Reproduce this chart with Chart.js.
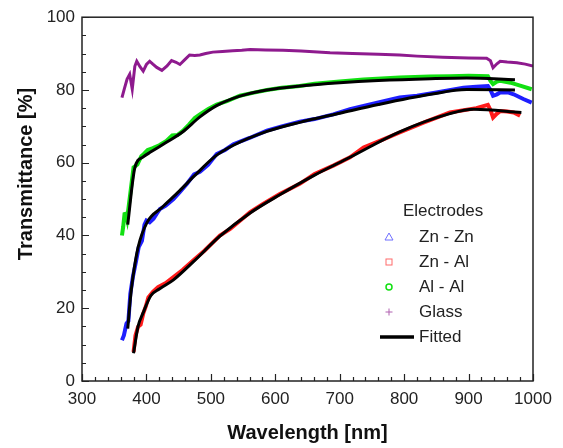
<!DOCTYPE html>
<html>
<head>
<meta charset="utf-8">
<script src="https://cdn.jsdelivr.net/npm/chart.js@4/dist/chart.umd.min.js"></script>
<style>
  html, body { margin: 0; padding: 0; background: #ffffff; }
  #wrap { width: 563px; height: 448px; position: relative; }
</style>
</head>
<body>
<div id="wrap"><canvas id="chart"></canvas></div>
<script>
// Measured series (wavelength in nm, transmittance in %)
const glassNm = [362, 366, 370, 374, 378, 382, 385, 390, 395, 400, 405, 410, 416, 424, 432, 439, 446, 452, 460, 467, 475, 483, 492, 503, 518, 534, 548, 561, 585, 612, 640, 685, 720, 760, 793, 820, 860, 900, 928, 934, 938, 944, 949, 960, 975, 988, 1000];
const glassT = [77.9, 80.5, 83.0, 84.3, 80.2, 86.5, 87.9, 86.4, 85.2, 87.0, 87.9, 87.1, 86.2, 85.4, 86.6, 88.1, 87.6, 87.0, 88.4, 89.6, 89.5, 89.6, 90.0, 90.4, 90.6, 90.8, 90.9, 91.1, 91.0, 90.9, 90.7, 90.2, 90.0, 89.8, 89.6, 89.3, 89.0, 88.8, 88.7, 88.0, 86.1, 87.2, 87.9, 87.7, 87.5, 87.1, 86.6];

const alNm = [362, 364, 366, 368, 370, 380, 386, 392, 396, 402, 410, 420, 431, 440, 448, 457, 466, 475, 483, 496, 509, 525, 545, 565, 587, 610, 638, 661, 700, 737, 793, 840, 871, 900, 930, 934, 938, 944, 949, 965, 980, 998];
const alT = [40.0, 42.5, 45.9, 46.0, 44.5, 58.7, 59.5, 61.8, 62.4, 63.5, 64.0, 64.8, 66.0, 67.5, 67.6, 68.8, 70.5, 72.3, 73.3, 74.8, 76.0, 76.9, 78.4, 79.2, 80.0, 80.6, 81.1, 81.7, 82.3, 82.9, 83.4, 83.7, 83.8, 83.9, 83.8, 82.5, 81.6, 82.3, 82.5, 82.0, 81.2, 80.2];

const znznNm = [362, 365, 369, 372, 375, 379, 384, 388, 393, 397, 400, 405, 411, 416, 421, 430, 442, 452, 463, 474, 483, 496, 509, 522, 535, 560, 587, 610, 638, 661, 690, 716, 737, 765, 793, 820, 850, 892, 912, 930, 934, 938, 944, 949, 960, 970, 985, 998];
const znznT = [11.2, 12.5, 15.8, 16.5, 24.0, 28.6, 33.0, 36.8, 38.5, 43.0, 44.1, 43.6, 44.6, 46.0, 47.3, 48.2, 50.0, 52.0, 54.2, 56.8, 57.5, 59.5, 62.4, 63.5, 65.1, 66.8, 68.8, 70.0, 71.3, 72.0, 73.3, 74.7, 75.6, 76.8, 77.9, 78.4, 79.3, 80.6, 80.9, 81.1, 80.0, 78.4, 78.8, 79.3, 79.4, 78.8, 77.5, 76.5];

const znalNm = [380, 383, 387, 391, 395, 399, 403, 410, 418, 430, 442, 456, 473, 490, 514, 530, 561, 581, 607, 638, 661, 690, 716, 737, 765, 793, 830, 871, 912, 930, 934, 938, 944, 949, 960, 970, 980];
const znalT = [8.0, 12.5, 14.9, 15.5, 18.5, 20.5, 23.0, 24.5, 25.8, 26.9, 28.6, 30.5, 33.2, 35.8, 40.0, 41.8, 46.4, 48.7, 51.4, 54.2, 56.9, 59.2, 61.5, 64.2, 66.2, 68.3, 71.0, 73.8, 75.0, 75.9, 74.5, 72.4, 73.5, 74.2, 74.1, 73.8, 72.9];

// Fitted curves
const fitAlNm = [371, 382, 395, 407, 431, 457, 483, 509, 545, 587, 638, 700, 760, 841, 897, 972];
const fitAlT = [43.0, 58.6, 61.6, 63.0, 65.6, 68.6, 72.6, 75.7, 78.3, 80.0, 81.1, 82.0, 82.6, 83.1, 83.3, 82.8];

const fitZnZnNm = [371, 375, 379, 387, 401, 424, 451, 474, 507, 535, 587, 638, 700, 760, 841, 897, 972];
const fitZnZnT = [14.4, 22.5, 28.5, 36.7, 43.6, 47.7, 52.2, 56.3, 61.8, 64.8, 68.6, 71.1, 73.6, 76.0, 78.8, 80.1, 80.0];

const fitZnAlNm = [380, 387, 395, 407, 420, 442, 473, 514, 561, 607, 661, 716, 793, 871, 908, 982];
const fitZnAlT = [7.6, 15.0, 18.8, 23.5, 25.3, 27.8, 32.8, 39.8, 46.2, 51.2, 56.6, 61.5, 68.5, 73.5, 74.7, 73.8];

// Axis ticks
const xTicks = [300, 400, 500, 600, 700, 800, 900, 1000];
const yTicks = [0, 20, 40, 60, 80, 100];

const legendItems = ['Zn - Zn', 'Zn - Al', 'Al - Al', 'Glass', 'Fitted'];

function toPoints(xs, ys) {
    return xs.map((x, i) => ({ x: x, y: ys[i] }));
}

const BLUE = '#1f1fff';
const RED = '#ff1a1a';
const GREEN = '#12e012';
const PURPLE = '#8e1a8e';
const FONT = '"Liberation Sans", Arial, Helvetica, sans-serif';

// frame, inward ticks, axis titles and the legend
const decorPlugin = {
    id: 'decor',
    afterDraw(chart) {
        const ctx = chart.ctx;
        const area = chart.chartArea;
        const xs = chart.scales.x;
        const ys = chart.scales.y;

        ctx.save();
        ctx.strokeStyle = '#222';
        ctx.lineWidth = 1.5;
        ctx.strokeRect(area.left, area.top, area.right - area.left, area.bottom - area.top);

        ctx.lineWidth = 1.2;
        ctx.beginPath();
        for (let v = 300; v <= 1000; v += 20) {
            const px = Math.round(xs.getPixelForValue(v)) + 0.5;
            const len = v % 100 === 0 ? 7 : 4;
            ctx.moveTo(px, area.bottom);
            ctx.lineTo(px, area.bottom - len);
        }
        for (let v = 0; v <= 100; v += 5) {
            const py = Math.round(ys.getPixelForValue(v)) + 0.5;
            const len = v % 20 === 0 ? 7 : 4;
            ctx.moveTo(area.left, py);
            ctx.lineTo(area.left + len, py);
        }
        ctx.stroke();

        // axis titles
        ctx.fillStyle = '#111';
        ctx.font = 'bold 20px ' + FONT;
        ctx.textAlign = 'center';
        ctx.textBaseline = 'middle';
        ctx.fillText('Wavelength [nm]', (area.left + area.right) / 2, 433);
        ctx.save();
        ctx.translate(26, 174);
        ctx.rotate(-Math.PI / 2);
        ctx.fillText('Transmittance [%]', 0, 0);
        ctx.restore();

        // legend
        ctx.font = '17px ' + FONT;
        ctx.fillStyle = '#222';
        ctx.textAlign = 'left';
        ctx.fillText('Electrodes', 403, 211);
        const rowY = [237, 262, 287, 312, 337];
        legendItems.forEach((label, i) => {
            ctx.fillStyle = '#222';
            ctx.fillText(label, 419, rowY[i]);
        });
        const sx = 389;
        ctx.lineWidth = 1;
        // triangle
        ctx.strokeStyle = '#6f6fff';
        ctx.beginPath();
        ctx.moveTo(sx, rowY[0] - 4);
        ctx.lineTo(sx + 4, rowY[0] + 3);
        ctx.lineTo(sx - 4, rowY[0] + 3);
        ctx.closePath();
        ctx.stroke();
        // square
        ctx.strokeStyle = '#ff6a6a';
        ctx.strokeRect(sx - 3, rowY[1] - 3, 6, 6);
        // circle
        ctx.strokeStyle = GREEN;
        ctx.lineWidth = 1.5;
        ctx.beginPath();
        ctx.arc(sx, rowY[2], 3, 0, Math.PI * 2);
        ctx.stroke();
        // plus
        ctx.strokeStyle = '#b060b0';
        ctx.lineWidth = 1;
        ctx.beginPath();
        ctx.moveTo(sx - 3.5, rowY[3]);
        ctx.lineTo(sx + 3.5, rowY[3]);
        ctx.moveTo(sx, rowY[3] - 3.5);
        ctx.lineTo(sx, rowY[3] + 3.5);
        ctx.stroke();
        // fitted line
        ctx.strokeStyle = '#000';
        ctx.lineWidth = 3.5;
        ctx.beginPath();
        ctx.moveTo(380, rowY[4]);
        ctx.lineTo(414, rowY[4]);
        ctx.stroke();
        ctx.restore();
    }
};

function dataSet(label, xs, ys, color, width) {
    return {
        label: label,
        data: toPoints(xs, ys),
        borderColor: color,
        backgroundColor: color,
        borderWidth: width,
        pointRadius: 0,
        tension: 0,
        order: 2
    };
}

function fitSet(xs, ys) {
    return {
        label: 'Fitted',
        data: toPoints(xs, ys),
        borderColor: '#000',
        borderWidth: 3,
        pointRadius: 0,
        cubicInterpolationMode: 'monotone',
        order: 1
    };
}

new Chart(document.getElementById('chart'), {
    type: 'line',
    data: {
        datasets: [
            dataSet('Glass', glassNm, glassT, PURPLE, 3),
            dataSet('Al - Al', alNm, alT, GREEN, 4),
            dataSet('Zn - Zn', znznNm, znznT, BLUE, 4),
            dataSet('Zn - Al', znalNm, znalT, RED, 4),
            fitSet(fitAlNm, fitAlT),
            fitSet(fitZnZnNm, fitZnZnT),
            fitSet(fitZnAlNm, fitZnAlT)
        ]
    },
    options: {
        responsive: true,
        maintainAspectRatio: false,
        animation: false,
        layout: { padding: { top: 16, right: 30, left: 0, bottom: 0 } },
        plugins: {
            legend: { display: false },
            tooltip: { enabled: false }
        },
        scales: {
            x: {
                type: 'linear',
                min: 300,
                max: 1000,
                afterBuildTicks(scale) {
                    scale.ticks = xTicks.map(v => ({ value: v }));
                },
                afterFit(scale) { scale.height = 67; },
                grid: { display: false, drawTicks: false },
                border: { display: false },
                ticks: {
                    padding: 8,
                    color: '#222',
                    maxRotation: 0,
                    font: { family: FONT, size: 17 },
                    callback: value => String(value)
                }
            },
            y: {
                min: 0,
                max: 100,
                afterBuildTicks(scale) {
                    scale.ticks = yTicks.map(v => ({ value: v }));
                },
                afterFit(scale) { scale.width = 82; },
                grid: { display: false, drawTicks: false },
                border: { display: false },
                ticks: {
                    padding: 7,
                    color: '#222',
                    font: { family: FONT, size: 17 },
                    callback: value => String(value)
                }
            }
        }
    },
    plugins: [decorPlugin]
});
</script>
</body>
</html>
